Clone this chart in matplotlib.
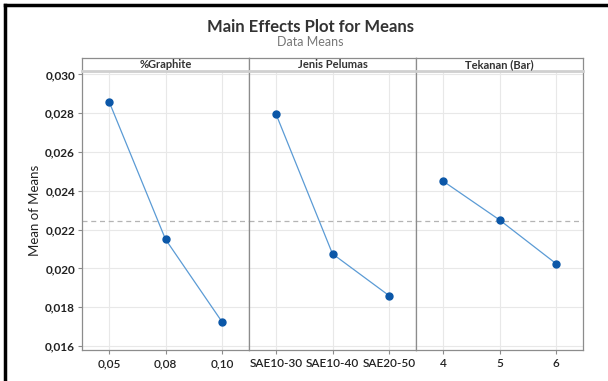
import numpy as np
import matplotlib.pyplot as plt
from matplotlib.lines import Line2D

plt.rcParams['font.family'] = ['Lato', 'DejaVu Sans']

# factor names and levels
factors = ["%Graphite", "Jenis Pelumas", "Tekanan (Bar)"]
graphite_levels = ["0,05", "0,08", "0,10"]
pelumas_levels = ["SAE10-30", "SAE10-40", "SAE20-50"]
tekanan_levels = ["4", "5", "6"]

# means
graphite_means = [0.02860, 0.02150, 0.01725]
pelumas_means = [0.02795, 0.02075, 0.01860]
tekanan_means = [0.02450, 0.02250, 0.02025]

levels = [graphite_levels, pelumas_levels, tekanan_levels]
means = [graphite_means, pelumas_means, tekanan_means]
grand_mean = np.mean(graphite_means + pelumas_means + tekanan_means)

yticks = [0.016, 0.018, 0.020, 0.022, 0.024, 0.026, 0.028, 0.030]

fig = plt.figure(figsize=(6.08, 3.81), dpi=100)

left, right = 82 / 608, 583 / 608
bottom, top = 1 - 350 / 381, 1 - 71 / 381
strip_top = 1 - 58 / 381
w = (right - left) / 3
frame_col = "#8c8c8c"

for i in range(3):
    ax = fig.add_axes([left + i * w, bottom, w, top - bottom])
    x = np.arange(len(levels[i]))
    ax.axhline(grand_mean, color="#b4b4b4", lw=0.9, ls=(0, (4, 3)), zorder=1)
    ax.plot(x, means[i], color="#5b9bd5", lw=0.9, zorder=2)
    ax.plot(x, means[i], "o", color="#0b57a8", ms=5, zorder=3)
    ax.set_xlim(-0.48, 2.48)
    ax.set_ylim(0.01579, 0.03018)
    ax.set_xticks(x)
    ax.set_xticklabels(levels[i], fontsize=8.5, color="#222222", fontweight="semibold")
    ax.set_yticks(yticks)
    ax.grid(True, color="#e8e8e8", lw=0.8)
    ax.set_axisbelow(True)
    for s in ax.spines.values():
        s.set_color(frame_col)
        s.set_linewidth(0.9)
    ax.tick_params(axis="x", length=3, color=frame_col, pad=3)
    if i == 0:
        ax.set_yticklabels([f"{v:.3f}".replace(".", ",") for v in yticks],
                           fontsize=8.5, color="#222222", fontweight="bold")
        ax.tick_params(axis="y", length=3, color=frame_col, pad=2)
        ax.set_ylabel("Mean of Means", fontsize=9.5, color="#222222", labelpad=3)
    else:
        ax.tick_params(axis="y", left=False, labelleft=False)

    # strip header
    sax = fig.add_axes([left + i * w, top, w, strip_top - top])
    sax.set_xticks([])
    sax.set_yticks([])
    for s in sax.spines.values():
        s.set_color(frame_col)
        s.set_linewidth(0.9)
    sax.spines["bottom"].set_color("#d0d0d0")
    sax.spines["bottom"].set_linewidth(2)
    sax.text(0.5, 0.5, factors[i], ha="center", va="center", fontsize=8,
             color="#333333", fontweight="bold", transform=sax.transAxes)

fig.text(0.51, 1 - 27 / 381, "Main Effects Plot for Means", ha="center", va="center",
         fontsize=12, fontweight="bold", color="#333333")
fig.text(0.51, 1 - 42 / 381, "Data Means", ha="center", va="center",
         fontsize=9, color="#777777")

# black frame on top and left edge
fig.add_artist(Line2D([5 / 608, 5 / 608], [0, 1 - 5 / 381], color="black", lw=2.5,
                      transform=fig.transFigure))
fig.add_artist(Line2D([5 / 608, 1], [1 - 5 / 381, 1 - 5 / 381], color="black", lw=2.5,
                      transform=fig.transFigure))

plt.savefig("out.png", dpi=100)
plt.close()
